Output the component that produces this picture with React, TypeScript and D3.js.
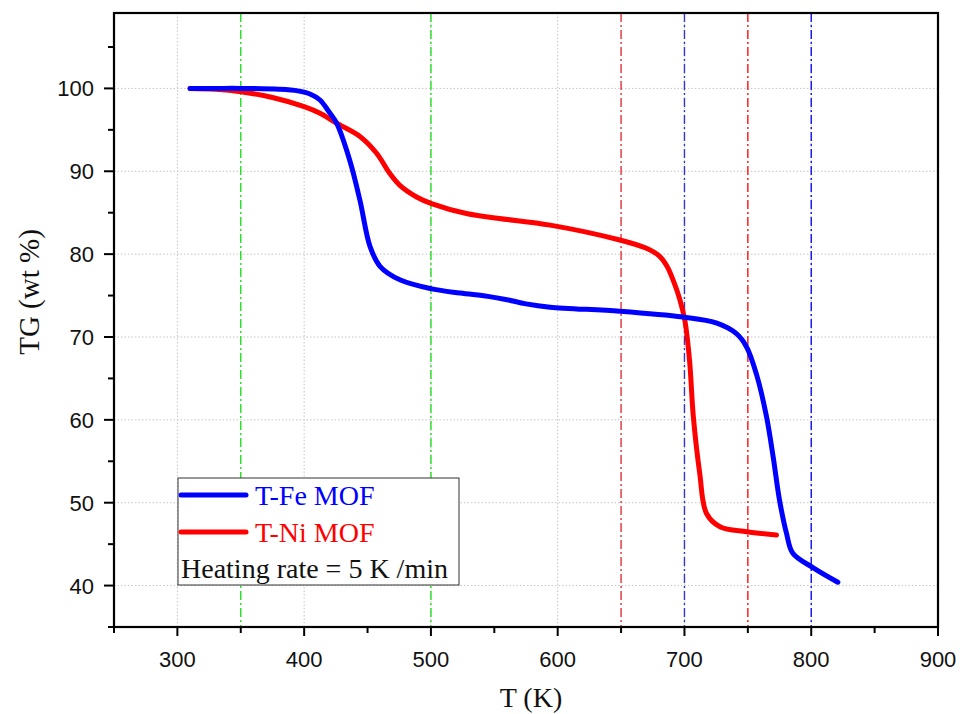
import React from "react";
import * as d3 from "d3";

const feT = [310, 330, 350, 380, 395, 405, 412.5, 419, 425.6, 436, 444, 452, 460, 475.5, 500.8, 523, 545, 560, 575, 594, 649, 698.7, 725, 741, 749, 757, 764.7, 770, 775, 780.5, 785.5, 801, 821];
const feTG = [100, 100, 100, 99.9, 99.7, 99.3, 98.6, 97.3, 95.8, 91.3, 86.5, 80.9, 78.5, 76.9, 75.8, 75.3, 74.9, 74.5, 74.0, 73.6, 73.1, 72.4, 71.7, 70.4, 68.8, 65.4, 60.4, 55.5, 50.3, 46.3, 43.9, 42.2, 40.4];

const niT = [310, 330, 350, 375, 400, 412.5, 425.6, 444, 457, 467.7, 475.5, 488.7, 500.5, 528, 554, 594, 649, 670, 680, 686, 691, 696.4, 700.3, 704, 707, 712, 717.4, 728, 749, 772.6];
const niTG = [100, 99.9, 99.6, 98.9, 97.8, 97.0, 95.8, 94.2, 92.2, 89.7, 88.3, 86.9, 86.1, 84.9, 84.3, 83.5, 81.7, 80.7, 79.8, 78.6, 76.9, 74.5, 72.0, 67.2, 60.4, 53.6, 48.7, 47.1, 46.5, 46.1];

const refT = [350, 500, 650, 700, 750, 800];
const refColors = ["#22dd22", "#22dd22", "#e0303a", "#3535cc", "#ff1010", "#1010ee"];

const xMajor = [300, 400, 500, 600, 700, 800, 900];
const xMinor = [250, 350, 450, 550, 650, 750, 850];
const yMajor = [40, 50, 60, 70, 80, 90, 100];
const yMinor = [35, 45, 55, 65, 75, 85, 95, 105];

const legendLabels = ["T-Fe MOF", "T-Ni MOF"];
const seriesColors = ["#0000ff", "#ff0000"];
const noteText = "Heating rate = 5 K /min";

export default function App() {
  const L = 114, R = 938, T = 13, B = 627;
  const x = d3.scaleLinear().domain([250, 900]).range([L, R]);
  const y = d3.scaleLinear().domain([35, 109.1]).range([B, T]);
  const line = d3
    .line<[number, number]>()
    .x((d) => x(d[0]))
    .y((d) => y(d[1]))
    .curve(d3.curveCatmullRom.alpha(0.5));
  const fe = feT.map((t, i) => [t, feTG[i]] as [number, number]);
  const ni = niT.map((t, i) => [t, niTG[i]] as [number, number]);
  const serif = "'Liberation Serif', 'Times New Roman', serif";
  const sans = "'Liberation Sans', Arial, sans-serif";

  return (
    <div style={{ position: "absolute", left: 0, top: 0 }}>
      <svg width={963} height={714} style={{ display: "block", background: "#fff" }}>
        {xMajor.filter((v) => v < 900).map((v) => (
          <line key={"gx" + v} x1={x(v)} x2={x(v)} y1={T} y2={B} stroke="#c4c4c4" strokeWidth={1} strokeDasharray="1.5,2" />
        ))}
        {yMajor.map((v) => (
          <line key={"gy" + v} x1={L} x2={R} y1={y(v)} y2={y(v)} stroke="#c4c4c4" strokeWidth={1} strokeDasharray="1.5,2" />
        ))}
        {refT.map((v, i) => (
          <line key={"r" + v} x1={x(v)} x2={x(v)} y1={T} y2={B} stroke={refColors[i]} strokeWidth={1.4} strokeDasharray="9,3,2,3" />
        ))}
        <path d={line(ni) || ""} fill="none" stroke={seriesColors[1]} strokeWidth={5} strokeLinecap="round" strokeLinejoin="round" />
        <path d={line(fe) || ""} fill="none" stroke={seriesColors[0]} strokeWidth={5} strokeLinecap="round" strokeLinejoin="round" />
        <rect x={L} y={T} width={R - L} height={B - T} fill="none" stroke="#000" strokeWidth={2.2} />
        {xMajor.map((v) => (
          <g key={"xt" + v}>
            <line x1={x(v)} x2={x(v)} y1={B} y2={B + 9} stroke="#000" strokeWidth={2} />
            <text x={x(v)} y={667} textAnchor="middle" fontFamily={sans} fontSize={22} fill="#111">{v}</text>
          </g>
        ))}
        {xMinor.map((v) => (
          <line key={"xm" + v} x1={x(v)} x2={x(v)} y1={B} y2={B + 6} stroke="#000" strokeWidth={2} />
        ))}
        {yMajor.map((v) => (
          <g key={"yt" + v}>
            <line x1={L} x2={L - 10} y1={y(v)} y2={y(v)} stroke="#000" strokeWidth={2} />
            <text x={94} y={y(v) + 8} textAnchor="end" fontFamily={sans} fontSize={22} fill="#111">{v}</text>
          </g>
        ))}
        {yMinor.map((v) => (
          <line key={"ym" + v} x1={L} x2={L - 6} y1={y(v)} y2={y(v)} stroke="#000" strokeWidth={2} />
        ))}
        <text x={531} y={707} textAnchor="middle" fontFamily={serif} fontSize={28} fill="#111">T (K)</text>
        <text transform="translate(39,292) rotate(-90)" textAnchor="middle" fontFamily={serif} fontSize={29} fill="#111">TG (wt %)</text>
        <rect x={178} y={478} width={281} height={107} fill="#fff" stroke="#333" strokeWidth={1} />
        {legendLabels.map((lab, i) => (
          <g key={lab}>
            <line x1={181} x2={246} y1={495 + i * 37} y2={495 + i * 37} stroke={seriesColors[i]} strokeWidth={5} strokeLinecap="round" />
            <text x={255} y={505 + i * 37} fontFamily={serif} fontSize={28} fill={seriesColors[i]}>{lab}</text>
          </g>
        ))}
        <text x={181} y={578} fontFamily={serif} fontSize={28} fill="#111">{noteText}</text>
      </svg>
    </div>
  );
}
